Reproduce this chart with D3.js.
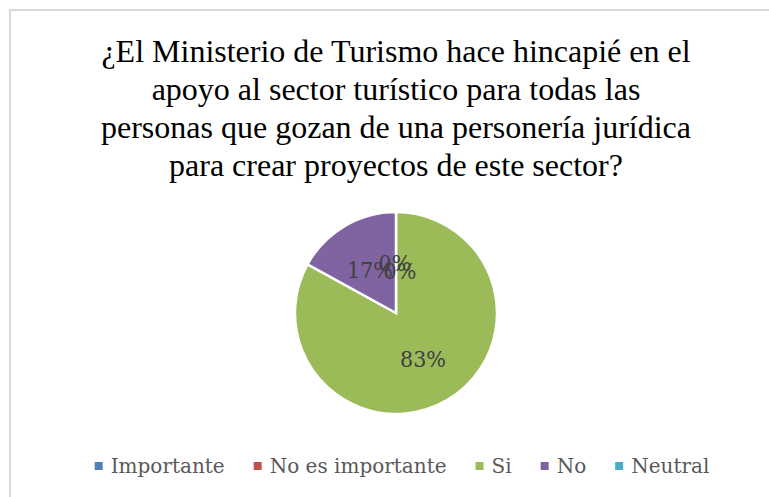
<!DOCTYPE html>
<html><head><meta charset="utf-8">
<script src="https://cdn.jsdelivr.net/npm/d3@7"></script>
<style>body{margin:0;background:#fff}svg{display:block}</style>
</head><body>
<svg id="c" width="769" height="497"></svg>
<script>
const titleLines = ["¿El Ministerio de Turismo hace hincapié en el",
  "apoyo al sector turístico para todas las",
  "personas que gozan de una personería jurídica",
  "para crear proyectos de este sector?"];
const categories = ["Importante","No es importante","Si","No","Neutral"];
const values = [0, 0, 83, 17, 0];
const colors = ["#4F81BD","#C0504D","#9BBB59","#8064A2","#4BACC6"];

const svg = d3.select("#c");
svg.append("path").attr("d","M10,497V10H769").attr("fill","none").attr("stroke","#d9d9d9").attr("stroke-width",2);

const serif = "'Liberation Serif', 'Times New Roman', serif";
svg.append("g").selectAll("text").data(titleLines).join("text")
  .attr("x",396).attr("y",(d,i)=>62+i*38)
  .attr("text-anchor","middle").style("font-family",serif).style("font-size","32px")
  .attr("fill","#000").text(d=>d);

const cx=396, cy=313, r=101;
const data = categories.map((c,i)=>({c, v:values[i], col:colors[i]}));
const pie = d3.pie().value(d=>d.v).sort(null);
const arcs = pie(data);
const arc = d3.arc().innerRadius(0).outerRadius(r);
const g = svg.append("g").attr("transform",`translate(${cx},${cy})`);
g.selectAll("path").data(arcs.filter(a=>a.data.v>0)).join("path")
  .attr("d",arc).attr("fill",d=>d.data.col).attr("stroke","#fff").attr("stroke-width",2.5);

const fontL = "'DejaVu Serif', serif";
const labelArc = d3.arc().innerRadius(53).outerRadius(53);
const shown = arcs.filter(a=>a.data.c!=="Neutral");
let zeroCount=0;
g.selectAll("text").data(shown).join("text")
  .attr("transform",d=>{
    const [x,y]=labelArc.centroid(d);
    let dx=0, dy=0;
    if(d.data.v===0){dx=-1+zeroCount*5; dy=3+zeroCount*8; zeroCount++;}
    else if(d.data.c==="No"){dx=1; dy=3;}
    return `translate(${x+dx},${y+dy})`;})
  .attr("text-anchor","middle").attr("dominant-baseline","central")
  .style("font-family","'DejaVu Serif Condensed', 'DejaVu Serif', serif").style("font-size","23px")
  .attr("fill","#404040")
  .text(d=>Math.round(d.data.v)+"%");

const lg = svg.append("g");
const items = lg.selectAll("g").data(data).join("g");
items.append("rect").attr("width",8).attr("height",8).attr("fill",d=>d.col);
items.append("text").attr("x",16).attr("y",4).attr("dominant-baseline","central")
  .style("font-family",fontL).style("font-size","20px").attr("fill","#595959").text(d=>d.c);
let xpos=0; const pos=[];
items.each(function(d){pos.push(xpos); xpos += 16 + this.querySelector("text").getComputedTextLength() + 29;});
const total = xpos-29;
const x0 = 402 - total/2;
items.attr("transform",(d,i)=>`translate(${x0+pos[i]},${462})`);
</script>
</body></html>
